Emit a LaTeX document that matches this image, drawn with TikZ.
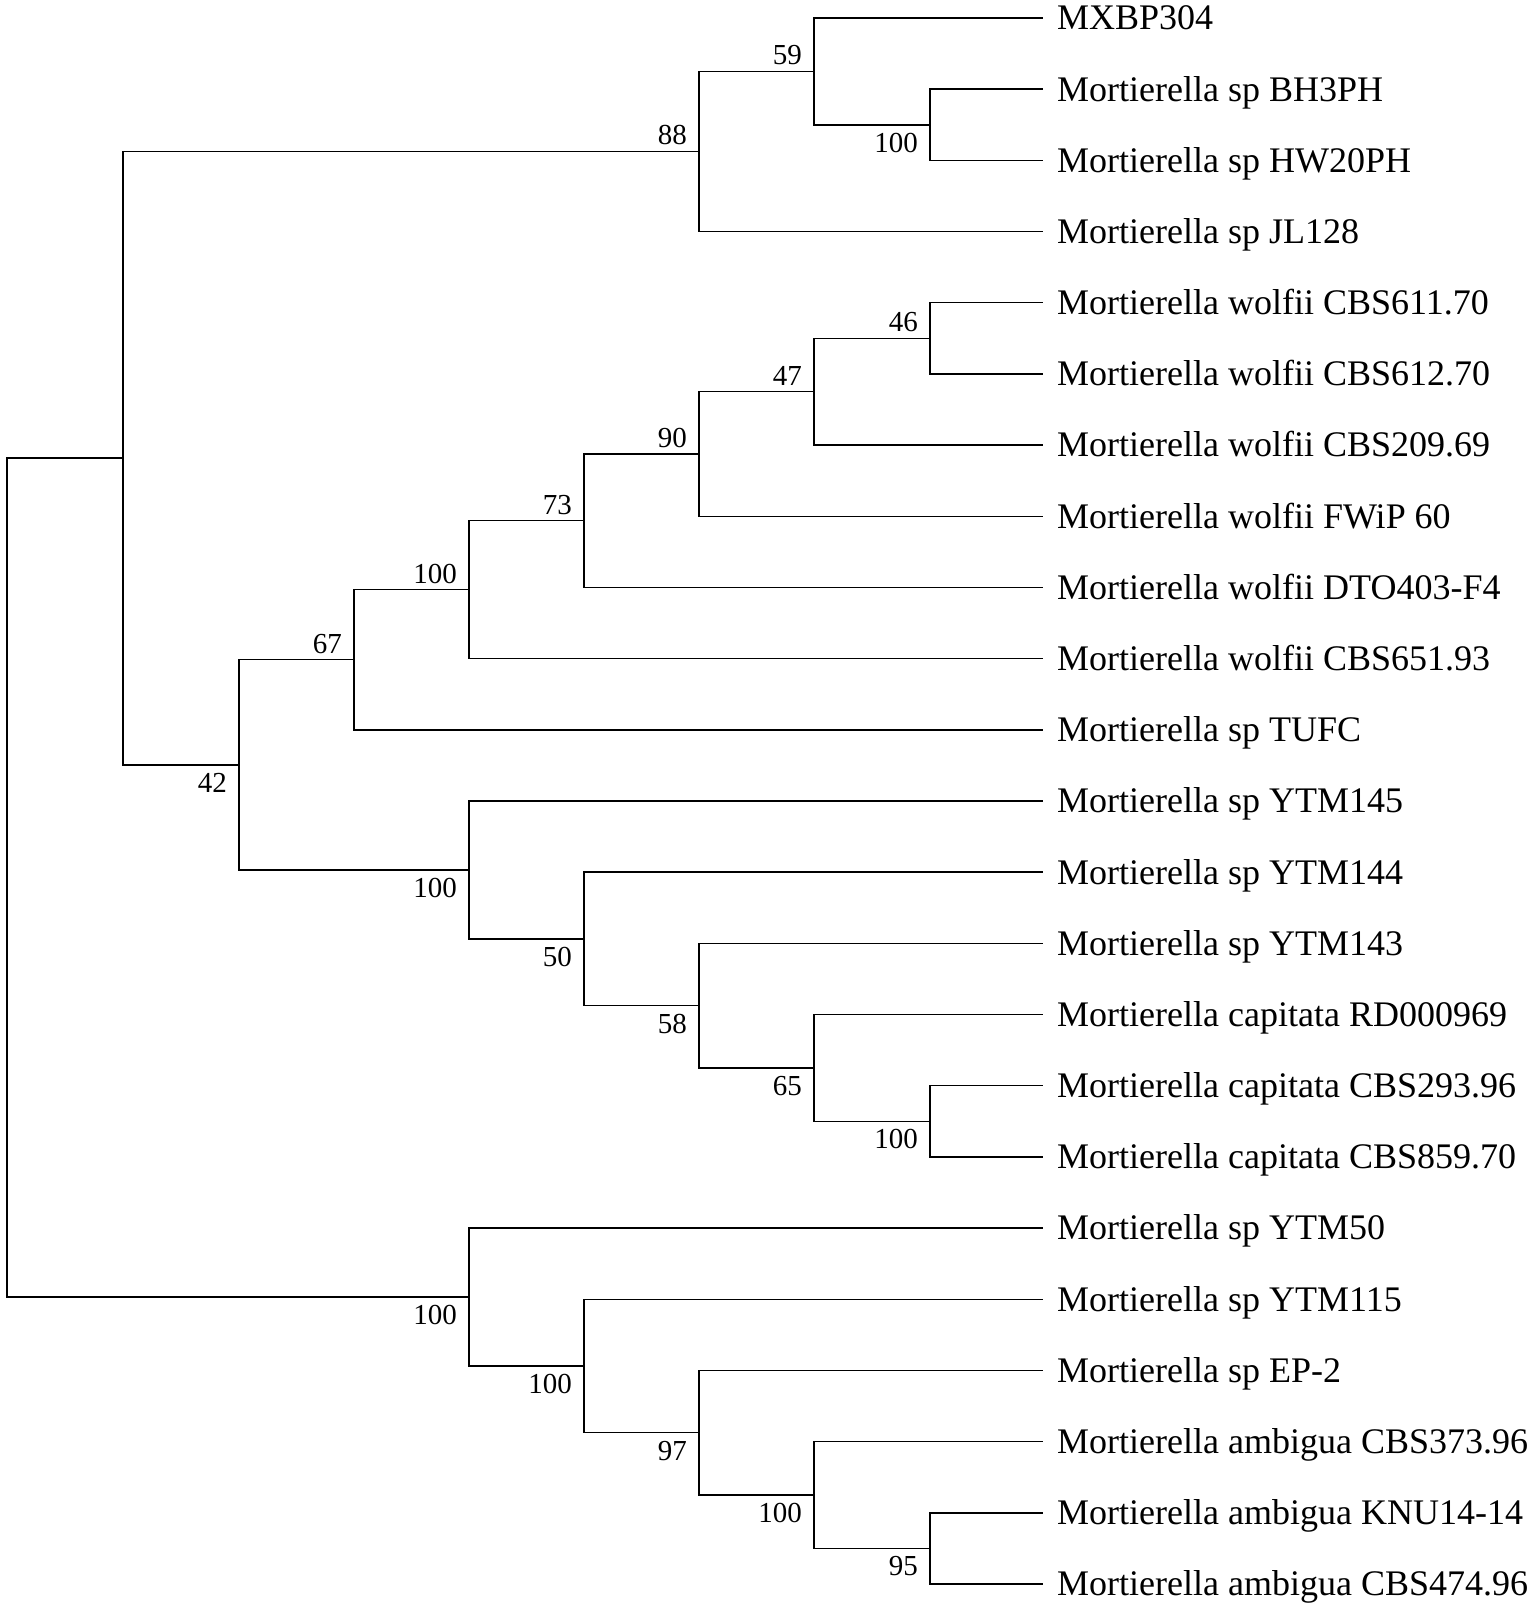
\documentclass[tikz,border=0pt]{standalone}
\usepackage{fontspec}
\setmainfont{Liberation Serif}
\usetikzlibrary{calc}
\tikzset{
  branch/.style={line width=1.5pt, black},
  leaflabel/.style={anchor=base west, inner sep=0pt, xshift=14pt, yshift=-11.9pt, font=\fontsize{36}{41}\selectfont},
  bsabove/.style={anchor=south east, inner sep=0pt, font=\fontsize{29}{33}\selectfont},
  bsbelow/.style={anchor=north east, inner sep=0pt, font=\fontsize{29}{33}\selectfont}
}
\begin{document}
\begin{tikzpicture}[x=1pt,y=-1pt]
\useasboundingbox (0,0) rectangle (1535,1608);
% leaf line ends
\coordinate (l0) at (1043,18);
\coordinate (l1) at (1043,89.18);
\coordinate (l2) at (1043,160.36);
\coordinate (l3) at (1043,231.54);
\coordinate (l4) at (1043,302.72);
\coordinate (l5) at (1043,373.9);
\coordinate (l6) at (1043,445.08);
\coordinate (l7) at (1043,516.26);
\coordinate (l8) at (1043,587.44);
\coordinate (l9) at (1043,658.62);
\coordinate (l10) at (1043,729.8);
\coordinate (l11) at (1043,800.98);
\coordinate (l12) at (1043,872.16);
\coordinate (l13) at (1043,943.34);
\coordinate (l14) at (1043,1014.52);
\coordinate (l15) at (1043,1085.7);
\coordinate (l16) at (1043,1156.88);
\coordinate (l17) at (1043,1228.06);
\coordinate (l18) at (1043,1299.24);
\coordinate (l19) at (1043,1370.42);
\coordinate (l20) at (1043,1441.6);
\coordinate (l21) at (1043,1512.78);
\coordinate (l22) at (1043,1583.96);
% internal nodes
\coordinate (nA100) at (930,124.77);
\coordinate (n59) at (814,71.39);
\coordinate (n88) at (699,151.46);
\coordinate (n46) at (930,338.31);
\coordinate (n47) at (814,391.70);
\coordinate (n90) at (699,453.98);
\coordinate (n73) at (584,520.71);
\coordinate (nB100) at (469,589.67);
\coordinate (n67) at (354,659.73);
\coordinate (nD100) at (930,1121.29);
\coordinate (n65) at (814,1067.91);
\coordinate (n58) at (699,1005.62);
\coordinate (n50) at (584,938.89);
\coordinate (nC100) at (469,869.94);
\coordinate (n42) at (239,764.83);
\coordinate (n1) at (123,458.15);
\coordinate (n95) at (930,1548.37);
\coordinate (nG100) at (814,1494.99);
\coordinate (n97) at (699,1432.70);
\coordinate (nF100) at (584,1365.97);
\coordinate (nE100) at (469,1297.02);
\coordinate (root) at (7,877.58);
% branches
\draw[branch] (root) |- (n1);
\draw[branch] (root) |- (nE100);
\draw[branch] (n1) |- (n88);
\draw[branch] (n1) |- (n42);
\draw[branch] (n88) |- (n59);
\draw[branch] (n88) |- (l3);
\draw[branch] (n59) |- (l0);
\draw[branch] (n59) |- (nA100);
\draw[branch] (nA100) |- (l1);
\draw[branch] (nA100) |- (l2);
\draw[branch] (n42) |- (n67);
\draw[branch] (n42) |- (nC100);
\draw[branch] (n67) |- (nB100);
\draw[branch] (n67) |- (l10);
\draw[branch] (nB100) |- (n73);
\draw[branch] (nB100) |- (l9);
\draw[branch] (n73) |- (n90);
\draw[branch] (n73) |- (l8);
\draw[branch] (n90) |- (n47);
\draw[branch] (n90) |- (l7);
\draw[branch] (n47) |- (n46);
\draw[branch] (n47) |- (l6);
\draw[branch] (n46) |- (l4);
\draw[branch] (n46) |- (l5);
\draw[branch] (nC100) |- (l11);
\draw[branch] (nC100) |- (n50);
\draw[branch] (n50) |- (l12);
\draw[branch] (n50) |- (n58);
\draw[branch] (n58) |- (l13);
\draw[branch] (n58) |- (n65);
\draw[branch] (n65) |- (l14);
\draw[branch] (n65) |- (nD100);
\draw[branch] (nD100) |- (l15);
\draw[branch] (nD100) |- (l16);
\draw[branch] (nE100) |- (l17);
\draw[branch] (nE100) |- (nF100);
\draw[branch] (nF100) |- (l18);
\draw[branch] (nF100) |- (n97);
\draw[branch] (n97) |- (l19);
\draw[branch] (n97) |- (nG100);
\draw[branch] (nG100) |- (l20);
\draw[branch] (nG100) |- (n95);
\draw[branch] (n95) |- (l21);
\draw[branch] (n95) |- (l22);
% leaf labels
\node[leaflabel] (t0) at (l0) {MXBP304};
\node[leaflabel] (t1) at (l1) {Mortierella sp BH3PH};
\node[leaflabel] (t2) at (l2) {Mortierella sp HW20PH};
\node[leaflabel] (t3) at (l3) {Mortierella sp JL128};
\node[leaflabel] (t4) at (l4) {Mortierella wolfii CBS611.70};
\node[leaflabel] (t5) at (l5) {Mortierella wolfii CBS612.70};
\node[leaflabel] (t6) at (l6) {Mortierella wolfii CBS209.69};
\node[leaflabel] (t7) at (l7) {Mortierella wolfii FWiP 60};
\node[leaflabel] (t8) at (l8) {Mortierella wolfii DTO403-F4};
\node[leaflabel] (t9) at (l9) {Mortierella wolfii CBS651.93};
\node[leaflabel] (t10) at (l10) {Mortierella sp TUFC};
\node[leaflabel] (t11) at (l11) {Mortierella sp YTM145};
\node[leaflabel] (t12) at (l12) {Mortierella sp YTM144};
\node[leaflabel] (t13) at (l13) {Mortierella sp YTM143};
\node[leaflabel] (t14) at (l14) {Mortierella capitata RD000969};
\node[leaflabel] (t15) at (l15) {Mortierella capitata CBS293.96};
\node[leaflabel] (t16) at (l16) {Mortierella capitata CBS859.70};
\node[leaflabel] (t17) at (l17) {Mortierella sp YTM50};
\node[leaflabel] (t18) at (l18) {Mortierella sp YTM115};
\node[leaflabel] (t19) at (l19) {Mortierella sp EP-2};
\node[leaflabel] (t20) at (l20) {Mortierella ambigua CBS373.96};
\node[leaflabel] (t21) at (l21) {Mortierella ambigua KNU14-14};
\node[leaflabel] (t22) at (l22) {Mortierella ambigua CBS474.96};
% bootstrap values
\node[bsabove] (b88) at ($(n88)+(-12,-6)$) {88};
\node[bsabove] (b59) at ($(n59)+(-12,-6)$) {59};
\node[bsbelow] (bA100) at ($(nA100)+(-12,8)$) {100};
\node[bsabove] (b46) at ($(n46)+(-12,-6)$) {46};
\node[bsabove] (b47) at ($(n47)+(-12,-6)$) {47};
\node[bsabove] (b90) at ($(n90)+(-12,-6)$) {90};
\node[bsabove] (b73) at ($(n73)+(-12,-6)$) {73};
\node[bsabove] (bB100) at ($(nB100)+(-12,-6)$) {100};
\node[bsabove] (b67) at ($(n67)+(-12,-6)$) {67};
\node[bsbelow] (b42) at ($(n42)+(-12,8)$) {42};
\node[bsbelow] (bC100) at ($(nC100)+(-12,8)$) {100};
\node[bsbelow] (b50) at ($(n50)+(-12,8)$) {50};
\node[bsbelow] (b58) at ($(n58)+(-12,8)$) {58};
\node[bsbelow] (b65) at ($(n65)+(-12,8)$) {65};
\node[bsbelow] (bD100) at ($(nD100)+(-12,8)$) {100};
\node[bsbelow] (bE100) at ($(nE100)+(-12,8)$) {100};
\node[bsbelow] (bF100) at ($(nF100)+(-12,8)$) {100};
\node[bsbelow] (b97) at ($(n97)+(-12,8)$) {97};
\node[bsbelow] (bG100) at ($(nG100)+(-12,8)$) {100};
\node[bsbelow] (b95) at ($(n95)+(-12,8)$) {95};
\end{tikzpicture}
\end{document}
